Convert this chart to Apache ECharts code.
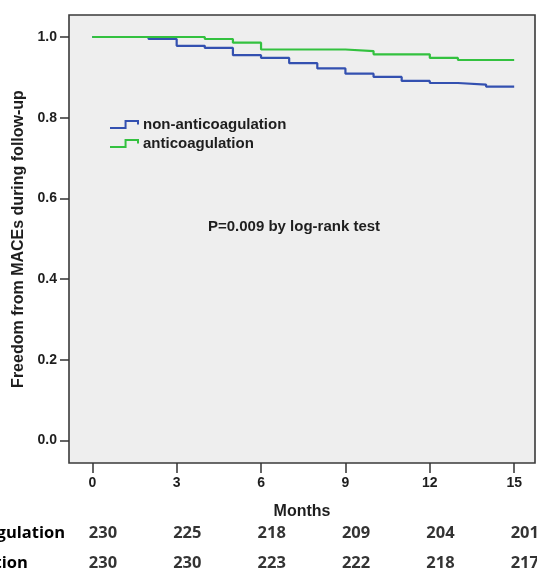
<!DOCTYPE html>
<html>
<head>
<meta charset="utf-8">
<script src="https://cdn.jsdelivr.net/npm/echarts@6/dist/echarts.min.js"></script>
<style>
html,body{margin:0;padding:0;background:#ffffff;}
#chart{width:537px;height:570px;}
</style>
</head>
<body>
<div id="chart"></div>
<script>
// ---- data ----
const months = [0,1,2,3,4,5,6,7,8,9,10,11,12,13,14,15];
const nonAnticoagulation = [1.000,1.000,0.995,0.978,0.973,0.955,0.948,0.935,0.922,0.909,0.901,0.891,0.886,0.882,0.877,0.877];
const anticoagulation    = [1.000,1.000,1.000,1.000,0.995,0.986,0.969,0.969,0.969,0.965,0.957,0.957,0.948,0.943,0.943,0.943];
const seriesNames = ['non-anticoagulation','anticoagulation'];
const xTicks = [0,3,6,9,12,15];
const yTicks = [0,0.2,0.4,0.6,0.8,1.0];
const riskMonths = [0,3,6,9,12,15];
const riskNonAnticoagulation = [230,225,218,209,204,201];
const riskAnticoagulation    = [230,230,223,222,218,217];
const riskRowLabels = ['non-anticoagulation','anticoagulation'];
const pValueText = 'P=0.009 by log-rank test';
const yAxisTitle = 'Freedom from MACEs during follow-up';
const xAxisTitle = 'Months';

// ---- layout / style ----
const BLUE = '#3350b0', GREEN = '#33c13f', INK = '#1e1e1e';
const FONT = '"Liberation Sans", Arial, sans-serif';
const TFONT = '"Open Sans", Lato, sans-serif';
const TSIZE = 16.5;
const gridLeft = 69, gridRight = 2, gridTop = 15, gridBottom = 107;
const xMin = -0.828, xMax = 15.74, yMin = -0.0558, yMax = 1.0545;

const ctx = document.createElement('canvas').getContext('2d');
ctx.font = 'bold ' + TSIZE + 'px ' + TFONT;
const rowLabelWidth = ctx.measureText(riskRowLabels[0]).width;
const rowLabelMargin = gridLeft - (65 - rowLabelWidth);

const toPairs = (xs, ys) => xs.map((x, i) => [x, ys[i]]);
const riskSeries = (vals, row) => ({
  type: 'scatter', name: 'risk' + row, xAxisIndex: 1, yAxisIndex: 1,
  symbolSize: 1, itemStyle: {color: 'rgba(0,0,0,0)'}, silent: true,
  data: riskMonths.map((m, i) => [m, row, vals[i]]),
  label: {show: true, position: 'right', distance: 0, offset: [-4, 0],
    formatter: p => String(p.value[2]),
    fontFamily: TFONT, fontWeight: 'bold', fontSize: TSIZE, color: '#000'}
});
const legendIcon = 'path://M0,10L15,10L15,0L27,0L27,5';

const chart = echarts.init(document.getElementById('chart'), null, {renderer: 'canvas'});
chart.setOption({
  animation: false,
  backgroundColor: '#ffffff',
  grid: [
    {left: gridLeft, right: gridRight, top: gridTop, bottom: gridBottom, show: true,
     backgroundColor: '#eeeeee', borderColor: '#3a3a3a', borderWidth: 1.6,
     outerBoundsMode: 'none', containLabel: false},
    {left: gridLeft, right: gridRight, top: 518.2, bottom: -8.2, outerBoundsMode: 'none', containLabel: false}
  ],
  xAxis: [
    {gridIndex: 0, type: 'value', min: xMin, max: xMax,
     axisLine: {show: false, onZero: false}, splitLine: {show: false},
     axisTick: {show: true, customValues: xTicks, length: 10, lineStyle: {color: '#333', width: 1.5}},
     axisLabel: {customValues: xTicks, margin: 13, fontFamily: FONT, fontWeight: 'bold', fontSize: 14, color: INK},
     name: xAxisTitle, nameLocation: 'middle', nameGap: 41,
     nameTextStyle: {fontFamily: FONT, fontWeight: 'bold', fontSize: 16, color: INK}},
    {gridIndex: 1, type: 'value', min: xMin, max: xMax, show: false, axisLine: {onZero: false}}
  ],
  yAxis: [
    {gridIndex: 0, type: 'value', min: yMin, max: yMax,
     axisLine: {show: false, onZero: false}, splitLine: {show: false},
     axisTick: {show: true, customValues: yTicks, length: 9, lineStyle: {color: '#333', width: 1.5}},
     axisLabel: {customValues: yTicks, margin: 12, formatter: v => v.toFixed(1), fontFamily: FONT, fontWeight: 'bold', fontSize: 14, color: INK},
     name: yAxisTitle, nameLocation: 'middle', nameGap: 38,
     nameTextStyle: {fontFamily: FONT, fontWeight: 'bold', fontSize: 16, color: INK}},
    {gridIndex: 1, type: 'category', data: riskRowLabels, inverse: true,
     axisLine: {show: false, onZero: false}, axisTick: {show: false}, splitLine: {show: false},
     axisLabel: {align: 'left', margin: rowLabelMargin, fontFamily: TFONT, fontWeight: 'bold', fontSize: TSIZE, color: '#000'}}
  ],
  legend: {
    orient: 'vertical', left: 104, top: 112, itemWidth: 28, itemHeight: 7, itemGap: 4,
    symbolKeepAspect: false,
    textStyle: {fontFamily: FONT, fontWeight: 'bold', fontSize: 15, color: INK, lineHeight: 15},
    data: [
      {name: seriesNames[0], icon: legendIcon, itemStyle: {color: 'rgba(0,0,0,0)', borderColor: BLUE, borderWidth: 2}},
      {name: seriesNames[1], icon: legendIcon, itemStyle: {color: 'rgba(0,0,0,0)', borderColor: GREEN, borderWidth: 2}}
    ]
  },
  graphic: [
    {type: 'text', x: 294, y: 227, silent: true,
     style: {text: pValueText, font: 'bold 15px ' + FONT, fill: INK, align: 'center', verticalAlign: 'middle'}}
  ],
  series: [
    {type: 'line', name: seriesNames[0], step: 'end', showSymbol: false, symbol: 'none',
     xAxisIndex: 0, yAxisIndex: 0, color: BLUE, lineStyle: {color: BLUE, width: 2.2}, data: toPairs(months, nonAnticoagulation)},
    {type: 'line', name: seriesNames[1], step: 'end', showSymbol: false, symbol: 'none',
     xAxisIndex: 0, yAxisIndex: 0, color: GREEN, lineStyle: {color: GREEN, width: 2.2}, data: toPairs(months, anticoagulation)},
    riskSeries(riskNonAnticoagulation, 0),
    riskSeries(riskAnticoagulation, 1)
  ]
});
</script>
</body>
</html>
